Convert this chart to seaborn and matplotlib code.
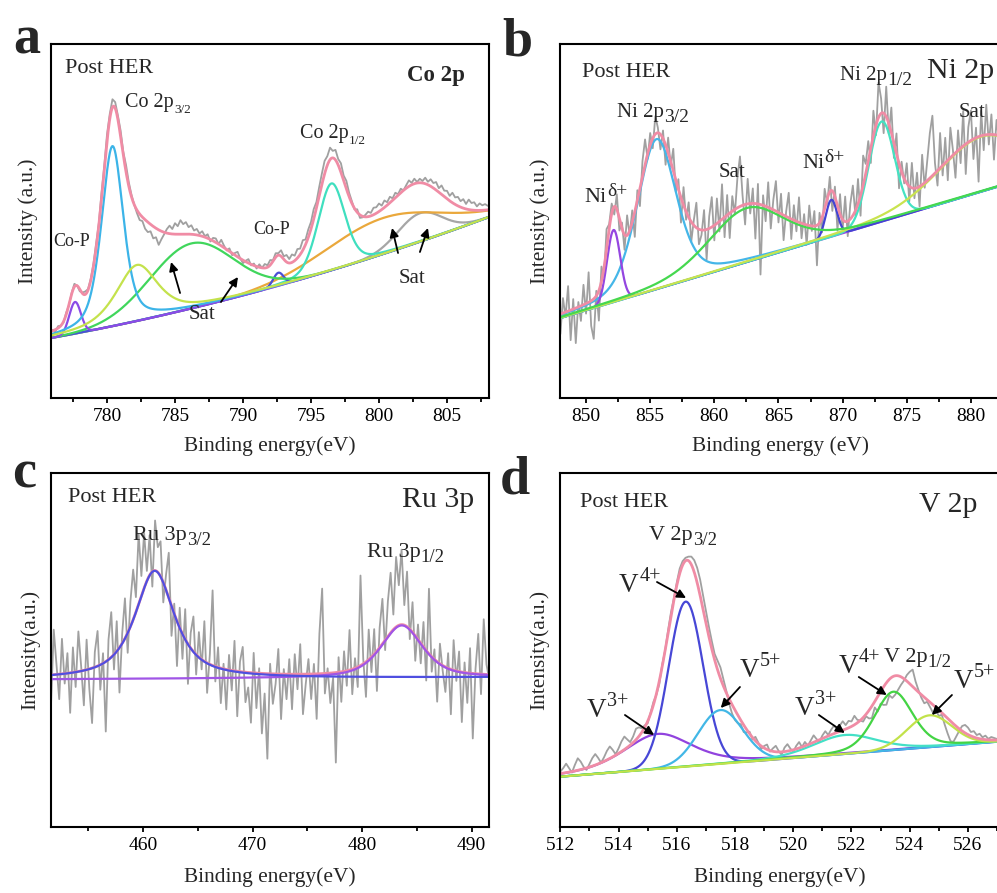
import numpy as np
import seaborn as sns
import matplotlib

matplotlib.use('Agg')
import matplotlib.pyplot as plt
from matplotlib.ticker import MultipleLocator

# intensity unit = one pixel above the bottom of each frame (a.u.)

# ---------- a) Co 2p ----------
co_bg_e = [775.9, 792.0, 808.1]
co_bg_y = [60, 110, 181]
co_center = [803.0, 800.3, 796.5, 792.6, 786.2, 777.65, 780.4, 782.2]
co_height = [28.5, 36, 86.8, 13, 65, 31.6, 180, 56]
co_fwhm = [3.8, 10.0, 2.33, 0.9, 7.2, 1.0, 1.9, 3.6]
co_eta = [0, 0, 0.25, 0, 0, 0, 0.5, 0.6]
co_colors = ['#a6a6a6', '#eaa83c', '#3fdfbf', '#4b4fd6', '#40d65c', '#8b4be6', '#3cb4e8', '#c4e24c']
# raw counts minus fitted envelope, 776.0 ... 808.0 eV every 0.2 eV
co_dev = [1, -2, 2, 0, -1, 2, -1, 1, 3, 0, -2, 1, 3, 1, 2, 3, 5, 2, 6, 4,
          7, 5, 8, 6, 4, 6, 3, 7, 4, 2, 0, -3, -6, -4, -9, -10, -7, -12, -9, -15,
          -8, -2, 4, 8, 5, 11, 8, 14, 10, 12, 7, 9, 4, 6, 2, 5, 1, 4, -2, 3,
          4, 0, 6, 2, -1, 3, -2, 2, 5, 0, -3, 1, 4, -1, 2, -2, 3, 0, 4, 2,
          5, 1, 4, 2, 6, 3, 7, 4, 8, 5, 9, 6, 10, 5, 8, 7, 10, 6, 9, 11,
          13, 9, 12, 7, 10, 6, 9, 5, 8, 4, 2, -1, 3, -3, -1, 2, 5, 3, 7, 6,
          8, 4, 7, 3, 6, 2, 5, 1, 4, 0, 3, 6, 2, 5, 1, 4, 2, 6, 3, 7,
          5, 8, 4, 9, 6, 8, 5, 10, 7, 9, 6, 9, 5, 10, 7, 8, 4, 7, 5, 6, 4]

# ---------- b) Ni 2p ----------
ni_bg_e = [848.0, 882.0]
ni_bg_y = [80, 211]
ni_center = [855.5, 852.15, 869.12, 873.05, 880.8, 862.5]
ni_height = [150, 72, 36.7, 100, 55, 54]
ni_fwhm = [3.6, 1.2, 1.05, 2.35, 8.0, 7.0]
ni_eta = [0.35, 0, 0, 0, 0.3, 0.3]
ni_colors = ['#45b6e8', '#9446e0', '#4343d3', '#45e2c2', '#c9e34f', '#45d84f']
# 848.0 ... 882.2 eV every 0.2 eV
ni_dev = [-20, 15, -5, 25, -30, 10, -35, 5, -15, 20, -10, 30, -25, -40, 5,
          -30, 15, -10, 20, 5, 10, -8, 15, -12, 6, -15, 20, -5, 12, -25,
          10, -18, 15, 25, -5, 12, -10, 18, 5, -15, 8, -20, 15, -5, 22,
          -12, 10, -25, 18, -8, 15, -20, 5, 25, -15, -5, 20, -30, 12, 30,
          -15, 25, -10, 35, -20, 20, -25, 15, -5, 30, 50, 10, -20, 25, -10,
          15, -35, 20, -70, 10, -15, 25, -20, 10, 30, -10, 20, -25, 5, 25,
          -20, 15, -10, 25, -15, 10, -20, 20, -5, 15, -40, 10, -15, 20, -5,
          15, -20, 10, -25, 20, -10, 25, -15, 15, 30, -5, 25, -20, 30, 10,
          20, -15, 25, -10, 35, 15, -20, 30, -10, 25, -15, 20, -25, 10, -5,
          20, -15, 25, -10, 15, -20, 30, -5, 20, 45, 60, 10, -15, 35, -10,
          25, -20, 30, 5, -25, 20, -15, 35, -30, 15, 30, -20, 10, -45, 25,
          -15, 30, -10, 20, -25, 15, -5]

# ---------- c) Ru 3p ----------
ru_bg_e = [451.6, 491.6]
ru_bg_y = [147.7, 149.7]
ru_center = [483.62, 461.07]
ru_height = [52.3, 108]
ru_fwhm = [4.5, 4.3]
ru_eta = [0.6, 0.8]
ru_colors = ['#a055e6', '#4f4fe0']
# 451.6 ... 491.6 eV every 0.25 eV
ru_dev = [-30, 45, 10, -25, 35, -10, 20, -40, 25, -15, 40, 5, -35, 30, -20, -55,
          15, 35, -25, 10, -70, 20, 45, -15, 30, -45, 10, 40, -20, 25, 50, 15,
          70, 20, 55, 10, 40, -15, 50, 25, 35, -20, 15, 45, -30, 10, -45, 20,
          -25, 30, -40, 15, 35, -20, 25, -10, 40, -30, 10, 75, -15, 20, -35, 5,
          -40, 15, -20, 30, -45, 10, 25, -30, -15, -50, 20, -35, 5, -60, -20, -85,
          10, -30, -10, 25, -45, 5, -25, 15, -35, 20, -15, 30, -40, -10, 15, -25,
          10, -45, 40, 85, -20, 5, -30, -5, -90, 15, -30, 20, -15, 40, -25, 10,
          -20, 90, 5, -35, 30, -15, 25, -40, 20, 45, -10, 35, 60, 15, 70, 40,
          75, 20, 55, -10, 30, -25, 15, -20, 25, -30, 65, -15, 10, -40, 20, -5,
          -25, 15, -45, 30, -10, 20, -50, 10, -30, 25, -65, 5, 40, -20, 55, 10, -5]

# ---------- d) V 2p ----------
v_bg_e = [512.0, 527.0]
v_bg_y = [50.3, 85.3]
v_center = [515.35, 516.31, 517.5, 521.77, 523.44, 524.68]
v_height = [35, 165, 53.8, 18.9, 58.3, 31.8]
v_fwhm = [2.8, 1.4, 1.8, 2.6, 1.55, 1.8]
v_eta = [0.5, 0, 0, 0.3, 0.3, 0]
v_colors = ['#9143de', '#4747d6', '#42b7e6', '#44e0c6', '#44d444', '#c2e24a']
# 512.0 ... 527.0 eV every 0.1 eV
v_dev = [2, 5, 9, 4, -1, 6, 12, 8, 2, -2, 3, 8, 11, 6, 0, 4, 9, 12, 7, 1,
         5, 10, 13, 8, 3, 6, 11, 9, 4, 2, -2, 1, 3, -1, -3, 2, 0, 3, 4, 2,
         3, 5, 4, 3, 4, 8, 12, 15, 16, 14, 12, 10, 8, 6, 9, 11, 7, 2, -5, -9,
         -10, -8, -4, -7, -3, 2, -2, 4, 1, -3, 2, 5, -1, 3, 6, 1, -3, 4, 7, 2,
         -2, 3, 6, 0, 4, -1, 3, 7, 2, -2, 3, 6, 1, 5, 8, 3, 6, 9, 4, 7,
         5, 9, 3, 0, -4, -2, -8, -12, -6, -15, -12, -18, -22, -16, -21, -19, -14, -8, -2, 6,
         12, 17, 8, 2, -3, -6, -2, -5, -8, -3, -6, -2, -9, -15, -20, -18, -10, -2, 5, 8,
         7, 4, 6, 3, 5, 2, 4, 1, 3, 2, 1]

RAW = '#a0a0a0'
ENV = '#f08ca5'


def pv(e, c, h, w, eta):
    g = np.exp(-4 * np.log(2) * (e - c) ** 2 / w ** 2)
    l = 1 / (1 + 4 * (e - c) ** 2 / w ** 2)
    return h * (eta * l + (1 - eta) * g)


def spectrum(ax, xlim, raw_rng, bg_e, bg_y, centers, heights, fwhms, etas, colors, dev, env_first=False):
    coef = np.polyfit(bg_e, bg_y, len(bg_e) - 1)
    e = np.linspace(xlim[0], xlim[1], 1200)
    bg = np.polyval(coef, e)
    peaks = [pv(e, c, h, w, k) for c, h, w, k in zip(centers, heights, fwhms, etas)]
    env = bg + np.sum(peaks, axis=0)

    e_raw = np.linspace(raw_rng[0], raw_rng[1], len(dev))
    raw = np.polyval(coef, e_raw) + np.sum(
        [pv(e_raw, c, h, w, k) for c, h, w, k in zip(centers, heights, fwhms, etas)], axis=0) + np.array(dev)

    sns.lineplot(x=e_raw, y=raw, ax=ax, color=RAW, lw=1.3, estimator=None, sort=False)
    if env_first:
        sns.lineplot(x=e, y=env, ax=ax, color=ENV, lw=2.0, estimator=None, sort=False)
    for p, col in zip(peaks, colors):
        sns.lineplot(x=e, y=bg + p, ax=ax, color=col, lw=1.6, estimator=None, sort=False)
    if not env_first:
        sns.lineplot(x=e, y=env, ax=ax, color=ENV, lw=2.0, estimator=None, sort=False)
    ax.set_xlim(*xlim)
    ax.set_ylim(0, 354)


def tag(ax, x, y, main, extra='', size=16, esize=13, rise=-3.0, **kw):
    t = ax.text(x, y, main, fontsize=size, va='baseline', ha='left', **kw)
    if extra:
        corner = (1, 1) if rise > 0 else (1, 0)
        ax.annotate(extra, xy=corner, xycoords=t, xytext=(0.3, rise), textcoords='offset points',
                    fontsize=esize, ha='left', va='top' if rise > 0 else 'bottom')
    return t


def arrow(ax, tail, tip):
    ax.annotate('', xy=tip, xytext=tail,
                arrowprops=dict(arrowstyle='-|>', color='black', lw=1.3, mutation_scale=13,
                                shrinkA=0, shrinkB=0))


sns.set_theme(style='ticks')
plt.rcParams['font.family'] = ['Liberation Serif', 'DejaVu Serif']
plt.rcParams['axes.linewidth'] = 1.5
plt.rcParams['xtick.major.width'] = 1.3
plt.rcParams['xtick.minor.width'] = 1.3

fig = plt.figure(figsize=(9.97, 8.93), dpi=100)
ax_a = fig.add_axes([0.05115, 0.55431, 0.43932, 0.39642])
ax_b = fig.add_axes([0.56169, 0.55431, 0.44132, 0.39642])
ax_c = fig.add_axes([0.05115, 0.07391, 0.43932, 0.39642])
ax_d = fig.add_axes([0.56169, 0.07391, 0.44132, 0.39642])

spectrum(ax_a, (775.88, 808.09), (776.0, 808.0), co_bg_e, co_bg_y, co_center, co_height, co_fwhm, co_eta,
         co_colors, co_dev)
spectrum(ax_b, (847.97, 882.27), (848.0, 882.2), ni_bg_e, ni_bg_y, ni_center, ni_height, ni_fwhm, ni_eta,
         ni_colors, ni_dev)
spectrum(ax_c, (451.6, 491.58), (451.6, 491.6), ru_bg_e, ru_bg_y, ru_center, ru_height, ru_fwhm, ru_eta,
         ru_colors, ru_dev, env_first=True)
spectrum(ax_d, (511.99, 527.1), (512.0, 527.0), v_bg_e, v_bg_y, v_center, v_height, v_fwhm, v_eta,
         v_colors, v_dev)

for ax, major, minor, xl, yl, ylx, xly in [
        (ax_a, 5, 2.5, 'Binding energy(eV)', 'Intensity (a.u.)', -0.030, -0.108),
        (ax_b, 5, 2.5, 'Binding energy (eV)', 'Intensity (a.u.)', -0.023, -0.108),
        (ax_c, 10, 5, 'Binding energy(eV)', 'Intensity(a.u.)', -0.025, -0.113),
        (ax_d, 2, 1, 'Binding energy(eV)', 'Intensity(a.u.)', -0.025, -0.113)]:
    ax.xaxis.set_major_locator(MultipleLocator(major))
    ax.xaxis.set_minor_locator(MultipleLocator(minor))
    ax.tick_params(axis='x', which='major', direction='out', length=3.5, pad=4, labelsize=14, colors='black')
    ax.tick_params(axis='x', which='minor', direction='out', length=3, colors='black')
    ax.set_yticks([])
    ax.set_xlabel(xl, fontsize=15.4)
    ax.set_ylabel(yl, fontsize=15.4)
    ax.xaxis.set_label_coords(0.5, xly)
    ax.yaxis.set_label_coords(ylx, 0.5)
    for s in ax.spines.values():
        s.set_color('black')
        s.set_linewidth(1.5)

# ---- annotations a ----
tag(ax_a, 776.91, 324.7, 'Post HER')
tag(ax_a, 802.04, 317, 'Co 2p', size=16.5, fontweight='bold')
tag(ax_a, 781.32, 290.7, 'Co 2p', '3/2', size=14.5, esize=9.5, rise=-3.0)
tag(ax_a, 794.19, 260.3, 'Co 2p', '1/2', size=14.5, esize=9.5, rise=-3.0)
tag(ax_a, 776.05, 152, 'Co-P', size=13)
tag(ax_a, 790.76, 163.7, 'Co-P', size=13)
tag(ax_a, 785.98, 78.7, 'Sat', size=15)
tag(ax_a, 801.42, 115.3, 'Sat', size=15)
arrow(ax_a, (785.37, 105), (784.71, 136))
arrow(ax_a, (788.38, 96), (789.63, 121))
arrow(ax_a, (801.4, 145), (800.96, 170))
arrow(ax_a, (803.01, 146), (803.6, 170))

# ---- annotations b ----
tag(ax_b, 849.69, 321, 'Post HER')
tag(ax_b, 876.58, 320, 'Ni 2p', size=21.5)
tag(ax_b, 852.42, 280.7, 'Ni 2p', '3/2', size=15, esize=14, rise=-3.0)
tag(ax_b, 869.82, 318, 'Ni 2p', '1/2', size=15, esize=14, rise=-3.0)
tag(ax_b, 849.87, 195.7, 'Ni', '\u03b4+', size=16, esize=14, rise=4)
tag(ax_b, 866.84, 229.7, 'Ni', '\u03b4+', size=16, esize=14, rise=4)
tag(ax_b, 860.34, 220.7, 'Sat', size=15)
tag(ax_b, 879.05, 281.3, 'Sat', size=15)

# ---- annotations c ----
tag(ax_c, 453.14, 325.3, 'Post HER')
tag(ax_c, 483.62, 320.3, 'Ru 3p', size=21.5)
tag(ax_c, 459.09, 287, 'Ru 3p', '3/2', size=16, esize=13.5, rise=-3.0)
tag(ax_c, 480.42, 269.7, 'Ru 3p', '1/2', size=16, esize=13.5, rise=-3.0)

# ---- annotations d ----
tag(ax_d, 512.69, 320.3, 'Post HER')
tag(ax_d, 524.31, 315.3, 'V 2p', size=21.5)
tag(ax_d, 515.04, 287, 'V 2p', '3/2', size=16, esize=13.5, rise=-3.0)
tag(ax_d, 523.1, 165, 'V 2p', '1/2', size=16, esize=13.5, rise=-3.0)
tag(ax_d, 514.02, 235, 'V', '4+', size=19.5, esize=14.5, rise=4)
tag(ax_d, 512.92, 110, 'V', '3+', size=19.5, esize=14.5, rise=4)
tag(ax_d, 518.17, 150, 'V', '5+', size=19.5, esize=14.5, rise=4)
tag(ax_d, 520.06, 112, 'V', '3+', size=19.5, esize=14.5, rise=4)
tag(ax_d, 521.55, 154, 'V', '4+', size=19.5, esize=14.5, rise=4)
tag(ax_d, 525.5, 139, 'V', '5+', size=19.5, esize=14.5, rise=4)
arrow(ax_d, (515.32, 245), (516.32, 229))
arrow(ax_d, (514.22, 112), (515.22, 92))
arrow(ax_d, (518.17, 140), (517.51, 119))
arrow(ax_d, (520.88, 112), (521.77, 94))
arrow(ax_d, (522.25, 150), (523.21, 132))
arrow(ax_d, (525.45, 132), (524.76, 112))

# panel letters
for letter, px, py in [('a', 13, 53), ('b', 502, 55), ('c', 12, 487), ('d', 500, 493)]:
    fig.text(px / 997, 1 - py / 893, letter, fontsize=39, fontweight='bold', va='baseline', ha='left')

fig.savefig('out.png', dpi=100)
